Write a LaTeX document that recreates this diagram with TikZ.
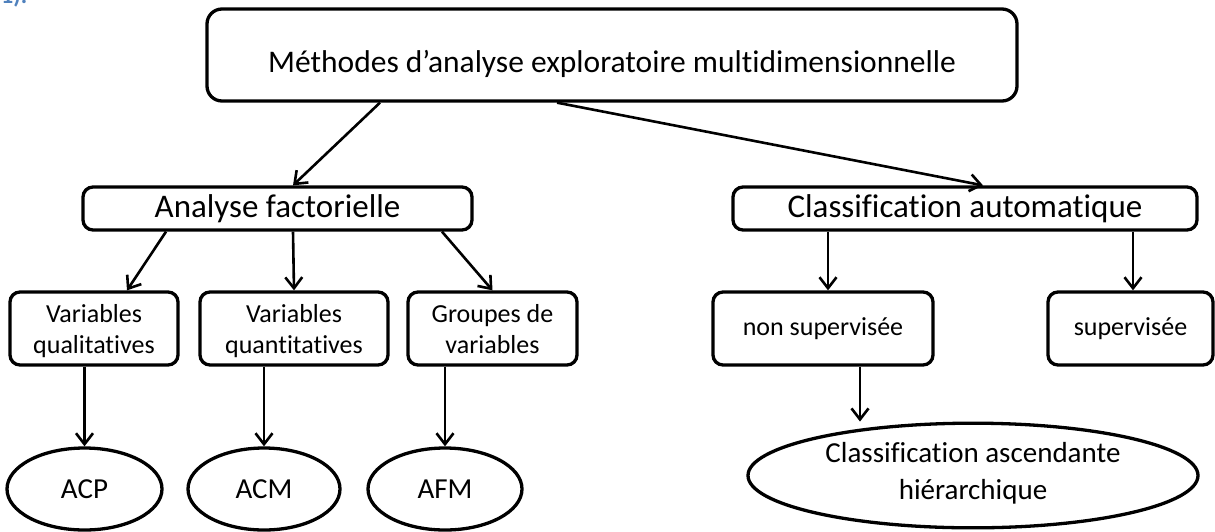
\documentclass[tikz,border=0pt]{standalone}
\usepackage{fontspec}
\setmainfont{Carlito}[Ligatures=CommonOff]
\usetikzlibrary{shapes.geometric,arrows.meta,calc}
\definecolor{numblue}{RGB}{79,129,189}
\newcommand\shiftedlines[2]{\raisebox{#1}[\height][\depth]{\begin{tabular}{@{}c@{}}#2\end{tabular}}}
\begin{document}
\begin{tikzpicture}[x=1pt,y=-1pt,
 box/.style={draw,line width=3.3pt,rounded corners=10pt,inner sep=0pt,align=center},
 oval/.style={draw,ellipse,line width=3.3pt,inner sep=0pt,align=center},
 arr/.style={line width=2.6pt,-{Straight Barb[length=11pt,width=17pt,line width=2.6pt]}},
 bigfont/.style={font=\fontsize{33}{40}\selectfont},
 smallfont/.style={font=\fontsize{26}{31}\selectfont},
 ovalfont/.style={font=\fontsize{29}{37}\selectfont}]
\useasboundingbox (0,0) rectangle (1215,531);
\clip (0,0) rectangle (1215,531);
\node[anchor=base west,text=numblue,font=\bfseries\fontsize{24}{28}\selectfont,inner sep=0pt] (num) at (1,3) {1).};
% level 0
\node[box,rounded corners=15pt,minimum width=810pt,minimum height=92pt,text height=35pt,text depth=0pt,font=\fontsize{31.5}{38}\selectfont] (top) at (612,55) {Méthodes d’analyse exploratoire multidimensionnelle};
% level 1
\node[box,minimum width=389pt,minimum height=43pt,bigfont] (af) at (277.5,208.5) {Analyse factorielle};
\node[box,minimum width=464pt,minimum height=43pt,bigfont] (ca) at (965,208.5) {Classification automatique};
% level 2
\node[box,minimum width=168pt,minimum height=73pt,smallfont] (vql) at (94,328.5) {\shiftedlines{-3pt}{Variables\\qualitatives}};
\node[box,minimum width=188pt,minimum height=73pt,smallfont] (vqn) at (294,328.5) {\shiftedlines{-3pt}{Variables\\quantitatives}};
\node[box,minimum width=169pt,minimum height=73pt,smallfont] (grp) at (492.5,328.5) {\shiftedlines{-3pt}{Groupes de\\variables}};
\node[box,minimum width=220pt,minimum height=73pt,smallfont] (nsup) at (823,328.5) {non supervisée};
\node[box,minimum width=165pt,minimum height=73pt,smallfont] (sup) at (1130.5,328.5) {supervisée};
% level 3
\node[oval,minimum width=155pt,minimum height=82pt,ovalfont] (acp) at (84.5,489) {ACP};
\node[oval,minimum width=152pt,minimum height=82pt,ovalfont] (acm) at (264,489) {ACM};
\node[oval,minimum width=154pt,minimum height=82pt,ovalfont] (afm) at (445,489) {AFM};
\node[oval,minimum width=450pt,minimum height=95pt,ovalfont] (cah) at (973,475.5) {\shiftedlines{2pt}{Classification ascendante\\hiérarchique}};
% connectors
\draw[arr] ($(top.south)+(-232,0)$) -- ($(af.north)+(15.5,0)$);
\draw[arr] ($(top.south)+(-55,0)$) -- ($(ca.north)+(18,0)$);
\draw[arr] ($(af.south)+(-111.5,0)$) -- ($(vql.north)+(33,0)$);
\draw[arr] ($(af.south)+(15.5,0)$) -- (vqn.north);
\draw[arr] ($(af.south)+(164.5,0)$) -- (grp.north);
\draw[arr] ($(ca.south)+(-137,0)$) -- ($(nsup.north)+(5,0)$);
\draw[arr] ($(ca.south)+(168,0)$) -- ($(sup.north)+(2.5,0)$);
\draw[arr] (vql.south -| acp.north) -- (acp.north);
\draw[arr] (vqn.south -| acm.north) -- (acm.north);
\draw[arr] (grp.south -| afm.north) -- (afm.north);
\draw[arr] ($(nsup.south)+(37,0)$) -- ($(cah.north)+(-113,0)$);
\end{tikzpicture}
\end{document}
